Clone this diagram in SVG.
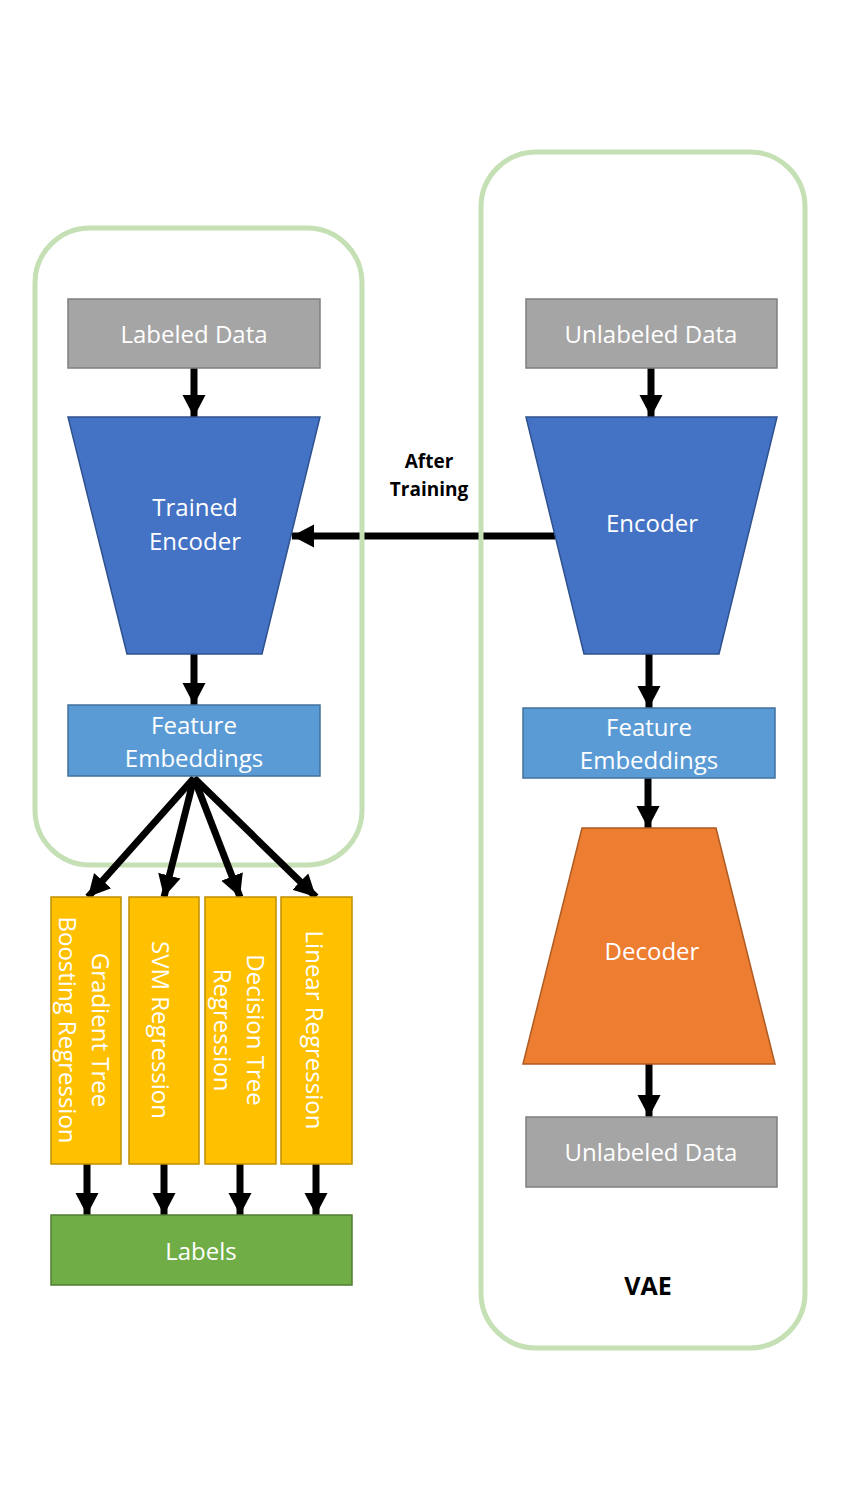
<svg xmlns="http://www.w3.org/2000/svg" width="844" height="1500" viewBox="0 0 844 1500">
<defs>
<marker id="ah" markerUnits="userSpaceOnUse" markerWidth="26" markerHeight="26" viewBox="0 0 26 26" refX="22" refY="13" orient="auto">
<path d="M0,1.5 L22,13 L0,24.5 Z" fill="#000"/>
</marker>
</defs>
<style>
.cont{fill:none;stroke:#C5E0B4;stroke-width:5}
.gray{fill:#A5A5A5;stroke:#7F7F7F;stroke-width:1.5}
.enc{fill:#4472C4;stroke:#2F528F;stroke-width:1.5}
.emb{fill:#5B9BD5;stroke:#41719C;stroke-width:1.5}
.yel{fill:#FFC000;stroke:#BF9000;stroke-width:1.5}
.grn{fill:#70AD47;stroke:#507E32;stroke-width:1.5}
.dec{fill:#ED7D31;stroke:#AE5A21;stroke-width:1.5}
.t{font-family:"Open Sans","Noto Sans",sans-serif;font-size:24px;fill:#fff;text-anchor:middle;dominant-baseline:central}
.b{font-family:"Open Sans","Noto Sans",sans-serif;font-weight:bold;fill:#000;text-anchor:middle;dominant-baseline:central}
.c{stroke:#000;stroke-width:7;fill:none;marker-end:url(#ah)}
</style>
<rect width="844" height="1500" fill="#fff"/>
<g id="connectors-back">
<line class="c" x1="555" y1="536" x2="292" y2="536"/>
</g>
<g id="container-left"><rect class="cont" x="35" y="228" width="327" height="637" rx="55"/></g>
<g id="container-vae"><rect class="cont" x="481" y="152" width="324" height="1196" rx="55"/>
<text class="b" x="648" y="1285" font-size="25">VAE</text></g>
<g id="after-training-label">
<text class="b" x="429" y="461" font-size="19">After</text>
<text class="b" x="429" y="489" font-size="19">Training</text>
</g>
<g id="connectors">
<line class="c" x1="194" y1="366" x2="194" y2="417"/>
<line class="c" x1="194" y1="654" x2="194" y2="705"/>
<line class="c" x1="194" y1="778" x2="88" y2="897"/>
<line class="c" x1="194" y1="778" x2="164" y2="897"/>
<line class="c" x1="194" y1="778" x2="240" y2="897"/>
<line class="c" x1="194" y1="778" x2="316" y2="897"/>
<line class="c" x1="87" y1="1164" x2="87" y2="1215"/>
<line class="c" x1="164" y1="1164" x2="164" y2="1215"/>
<line class="c" x1="240" y1="1164" x2="240" y2="1215"/>
<line class="c" x1="316" y1="1164" x2="316" y2="1215"/>
<line class="c" x1="651" y1="366" x2="651" y2="417"/>
<line class="c" x1="649" y1="654" x2="649" y2="708"/>
<line class="c" x1="648" y1="778" x2="648" y2="828"/>
<line class="c" x1="649" y1="1064" x2="649" y2="1117"/>
</g>
<g id="labeled-data"><rect class="gray" x="68" y="299" width="252" height="69"/><text class="t" x="194" y="333">Labeled Data</text></g>
<g id="trained-encoder"><polygon class="enc" points="68,417 320,417 262,654 127,654"/><text class="t" x="195" y="506">Trained</text><text class="t" x="195" y="540">Encoder</text></g>
<g id="feature-embeddings-left"><rect class="emb" x="68" y="705" width="252" height="71"/><text class="t" x="194" y="724">Feature</text><text class="t" x="194" y="757">Embeddings</text></g>
<g id="gbr"><rect class="yel" x="51" y="897" width="70" height="267"/><text class="t" transform="translate(101,1030) rotate(90)" x="0" y="0">Gradient Tree</text><text class="t" transform="translate(68,1030) rotate(90)" x="0" y="0">Boosting Regression</text></g>
<g id="svm"><rect class="yel" x="129" y="897" width="70" height="267"/><text class="t" transform="translate(161,1030) rotate(90)" x="0" y="0">SVM Regression</text></g>
<g id="dtr"><rect class="yel" x="205" y="897" width="71" height="267"/><text class="t" transform="translate(256,1030) rotate(90)" x="0" y="0">Decision Tree</text><text class="t" transform="translate(223,1030) rotate(90)" x="0" y="0">Regression</text></g>
<g id="lr"><rect class="yel" x="281" y="897" width="71" height="267"/><text class="t" transform="translate(315,1030) rotate(90)" x="0" y="0">Linear Regression</text></g>
<g id="labels"><rect class="grn" x="51" y="1215" width="301" height="70"/><text class="t" x="201" y="1250">Labels</text></g>
<g id="unlabeled-data-in"><rect class="gray" x="526" y="299" width="251" height="69"/><text class="t" x="651" y="333">Unlabeled Data</text></g>
<g id="encoder"><polygon class="enc" points="526,417 777,417 719,654 584,654"/><text class="t" x="652" y="522">Encoder</text></g>
<g id="feature-embeddings-right"><rect class="emb" x="523" y="708" width="252" height="70"/><text class="t" x="649" y="726">Feature</text><text class="t" x="649" y="759">Embeddings</text></g>
<g id="decoder"><polygon class="dec" points="582,828 716,828 775,1064 523,1064"/><text class="t" x="652" y="950">Decoder</text></g>
<g id="unlabeled-data-out"><rect class="gray" x="526" y="1117" width="251" height="70"/><text class="t" x="651" y="1151">Unlabeled Data</text></g>
</svg>
